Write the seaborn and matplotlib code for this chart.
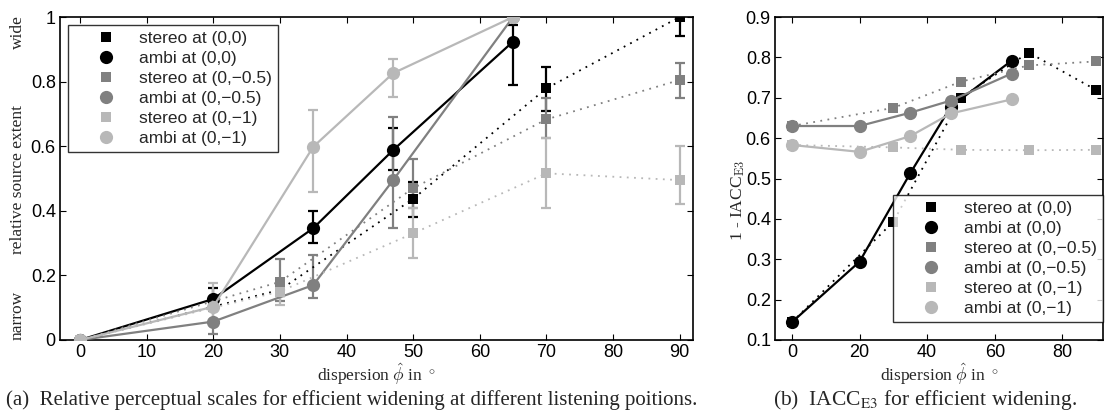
import numpy as np
import pandas as pd
import matplotlib
matplotlib.use("Agg")
import matplotlib.pyplot as plt
from matplotlib.lines import Line2D
import seaborn as sns

# x positions (dispersion in degrees)
x_stereo = [0, 30, 50, 70, 90]
x_ambi = [0, 20, 35, 47, 65]

# (a) relative perceptual scales, mean / lower / upper
st00 = [0, 0.155, 0.437, 0.779, 1.0]
st00_lo = [0, 0.135, 0.38, 0.71, 0.94]
st00_hi = [0, 0.175, 0.49, 0.846, 1.06]
am00 = [0, 0.127, 0.346, 0.588, 0.924]
am00_lo = [0, 0.10, 0.30, 0.526, 0.79]
am00_hi = [0, 0.16, 0.40, 0.655, 0.975]
st05 = [0, 0.18, 0.47, 0.683, 0.805]
st05_lo = [0, 0.12, 0.41, 0.625, 0.748]
st05_hi = [0, 0.25, 0.56, 0.749, 0.858]
am05 = [0, 0.057, 0.17, 0.495, 1.0]
am05_lo = [0, 0.02, 0.13, 0.346, 1.0]
am05_hi = [0, 0.09, 0.263, 0.69, 1.0]
st10 = [0, 0.15, 0.33, 0.516, 0.495]
st10_lo = [0, 0.108, 0.254, 0.408, 0.42]
st10_hi = [0, 0.186, 0.41, 0.624, 0.60]
am10 = [0, 0.103, 0.598, 0.826, 1.0]
am10_lo = [0, 0.06, 0.459, 0.753, 1.0]
am10_hi = [0, 0.175, 0.712, 0.869, 1.0]

# (b) 1 - IACC_E3
iacc_st00 = [0.144, 0.393, 0.70, 0.812, 0.719]
iacc_am00 = [0.144, 0.294, 0.513, 0.678, 0.792]
iacc_st05 = [0.63, 0.675, 0.74, 0.78, 0.79]
iacc_am05 = [0.63, 0.63, 0.663, 0.693, 0.76]
iacc_st10 = [0.583, 0.577, 0.571, 0.57, 0.571]
iacc_am10 = [0.583, 0.566, 0.605, 0.661, 0.696]

labels = ["stereo at (0,0)", "ambi at (0,0)", "stereo at (0,\u22120.5)",
          "ambi at (0,\u22120.5)", "stereo at (0,\u22121)", "ambi at (0,\u22121)"]
colors = ["black", "black", "0.5", "0.5", "0.72", "0.72"]

sns.set_style("ticks", {"xtick.direction": "in", "ytick.direction": "in"})
plt.rcParams["font.family"] = ["Liberation Sans", "DejaVu Sans"]
plt.rcParams["mathtext.fontset"] = "cm"

fig = plt.figure(figsize=(11.05, 4.17), dpi=100)
W, H = 1105, 417
axa = fig.add_axes([60 / W, 77 / H, 633 / W, 323 / H])
axb = fig.add_axes([775 / W, 77 / H, 328 / W, 323 / H])

dots = (0, (1, 3))
serif = ["Liberation Serif", "DejaVu Serif"]


def draw(ax, x, y, c, kind, lo=None, hi=None):
    if lo is not None:
        y_ = np.array(y)
        err = [y_ - np.array(lo), np.array(hi) - y_]
        ax.errorbar(x, y, yerr=err, fmt="none", ecolor=c, elinewidth=1.6,
                    capsize=3.5, capthick=1.6, zorder=2)
    if kind == "s":
        sns.lineplot(x=x, y=y, ax=ax, color=c, linestyle=dots, linewidth=1.3,
                     marker="s", markersize=7, markeredgewidth=0, zorder=3)
    else:
        sns.lineplot(x=x, y=y, ax=ax, color=c, linestyle="-", linewidth=1.6,
                     marker="o", markersize=9.5, markeredgewidth=0, zorder=3)


series_a = [(x_stereo, st00, st00_lo, st00_hi, "s"),
            (x_ambi, am00, am00_lo, am00_hi, "o"),
            (x_stereo, st05, st05_lo, st05_hi, "s"),
            (x_ambi, am05, am05_lo, am05_hi, "o"),
            (x_stereo, st10, st10_lo, st10_hi, "s"),
            (x_ambi, am10, am10_lo, am10_hi, "o")]
for (x, y, lo, hi, k), c in zip(series_a, colors):
    draw(axa, x, y, c, k, lo, hi)

series_b = [(x_stereo, iacc_st00, "s"), (x_ambi, iacc_am00, "o"),
            (x_stereo, iacc_st05, "s"), (x_ambi, iacc_am05, "o"),
            (x_stereo, iacc_st10, "s"), (x_ambi, iacc_am10, "o")]
for (x, y, k), c in zip(series_b, colors):
    draw(axb, x, y, c, k)

for ax in (axa, axb):
    for s in ax.spines.values():
        s.set_visible(True)
        s.set_linewidth(1.2)
        s.set_color("black")
    ax.tick_params(top=True, right=True, length=4, width=0.8, labelsize=13,
                   direction="in", colors="black", pad=3)
    ax.set_xlabel("dispersion $\\hat{\\phi}$ in $^\\circ$", family=serif,
                  fontsize=12.5, labelpad=0)
    ax.set_ylabel("")

axa.set_xlim(-3, 92)
axa.set_ylim(0, 1)
axa.set_xticks(range(0, 91, 10))
axa.set_yticks([0, 0.2, 0.4, 0.6, 0.8, 1])
axa.set_yticklabels(["0", "0.2", "0.4", "0.6", "0.8", "1"])

axb.set_xlim(-5, 92)
axb.set_ylim(0.1, 0.9)
axb.set_xticks([0, 20, 40, 60, 80])
axb.set_yticks(np.arange(0.1, 0.91, 0.1))
axb.set_yticklabels(["0.1", "0.2", "0.3", "0.4", "0.5", "0.6", "0.7", "0.8", "0.9"])

# y labels of (a): scale ends and title in one column
fig.text(18 / W, 1 - 180 / H, "relative source extent", rotation=90, family=serif,
         fontsize=12.5, ha="center", va="center")
fig.text(18 / W, 1 - 32 / H, "wide", rotation=90, family=serif,
         fontsize=12.5, ha="center", va="center")
fig.text(18 / W, 1 - 315 / H, "narrow", rotation=90, family=serif,
         fontsize=12.5, ha="center", va="center")
fig.text(738 / W, 1 - 200 / H, "1 - IACC$_{\\rm E3}$", rotation=90, family=serif,
         fontsize=12.5, ha="center", va="center")

handles = [Line2D([], [], linestyle="none", marker="s" if i % 2 == 0 else "o",
                  markersize=7 if i % 2 == 0 else 9.5, markeredgewidth=0,
                  color=c) for i, c in enumerate(colors)]
for ax, loc, anchor in ((axa, "upper left", (0.013, 0.975)),
                        (axb, "lower right", (1.0, 0.056))):
    leg = ax.legend(handles, labels, loc=loc, bbox_to_anchor=anchor,
                    borderaxespad=0, fontsize=12.5, frameon=True, fancybox=False,
                    labelspacing=0.28, handlelength=3.7, handletextpad=0.05,
                    borderpad=0.35)
    leg.get_frame().set_edgecolor("black")
    leg.get_frame().set_linewidth(1.0)

fig.text(352 / W, 1 - 400 / H,
         "(a)  Relative perceptual scales for efficient widening at different listening poitions.",
         family=serif, fontsize=15, ha="center", va="center")
fig.text(925 / W, 1 - 400 / H, "(b)  IACC$_{\\rm E3}$ for efficient widening.",
         family=serif, fontsize=15.5, ha="center", va="center", math_fontfamily="stix")

fig.savefig("out.png", dpi=100)
